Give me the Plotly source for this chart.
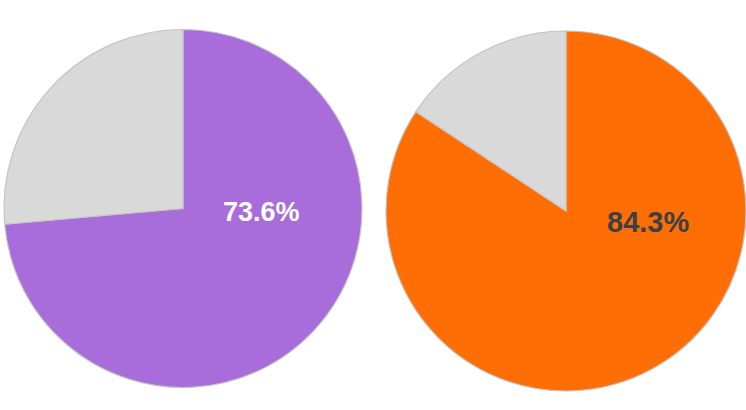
import plotly.graph_objects as go

# Data
charts = ["Left", "Right"]
done_pct = [73.6, 84.3]
labels = ["Done", "Remaining"]
main_colors = ["#A86CDB", "#FF6E04"]
rest_color = "#D9D9D9"
text_colors = ["#FFFFFF", "#3B4048"]

W, H = 746, 410
domains = [
    dict(x=[4 / W, 362 / W], y=[1 - 390 / H, 1 - 27 / H]),
    dict(x=[386 / W, 746 / W], y=[1 - 392 / H, 1 - 30 / H]),
]
label_pos = [(261 / W, 1 - 212 / H), (648 / W, 1 - 222 / H)]

fig = go.Figure()
annotations = []
for i, name in enumerate(charts):
    v = done_pct[i]
    fig.add_trace(go.Pie(
        labels=labels,
        values=[v, round(100 - v, 1)],
        sort=False,
        direction="clockwise",
        rotation=0,
        domain=domains[i],
        marker=dict(colors=[main_colors[i], rest_color],
                    line=dict(color="#C4C4C4", width=1.2)),
        textinfo="none",
        hoverinfo="label+percent",
        showlegend=False,
        name=name,
    ))
    annotations.append(dict(
        x=label_pos[i][0], y=label_pos[i][1], xref="paper", yref="paper",
        text=f"{v:.1f}%", showarrow=False,
        font=dict(family="Liberation Sans, Arial, sans-serif", size=27 if i == 0 else 29,
                  color=text_colors[i], weight="bold"),
        xanchor="center", yanchor="middle",
    ))

fig.update_layout(
    width=W, height=H,
    margin=dict(l=0, r=0, t=0, b=0),
    paper_bgcolor="white",
    plot_bgcolor="white",
    annotations=annotations,
)
fig.write_html("out.html",
               config={"displayModeBar": False},
               post_script="document.body.style.margin='0';document.body.style.overflow='hidden';")
